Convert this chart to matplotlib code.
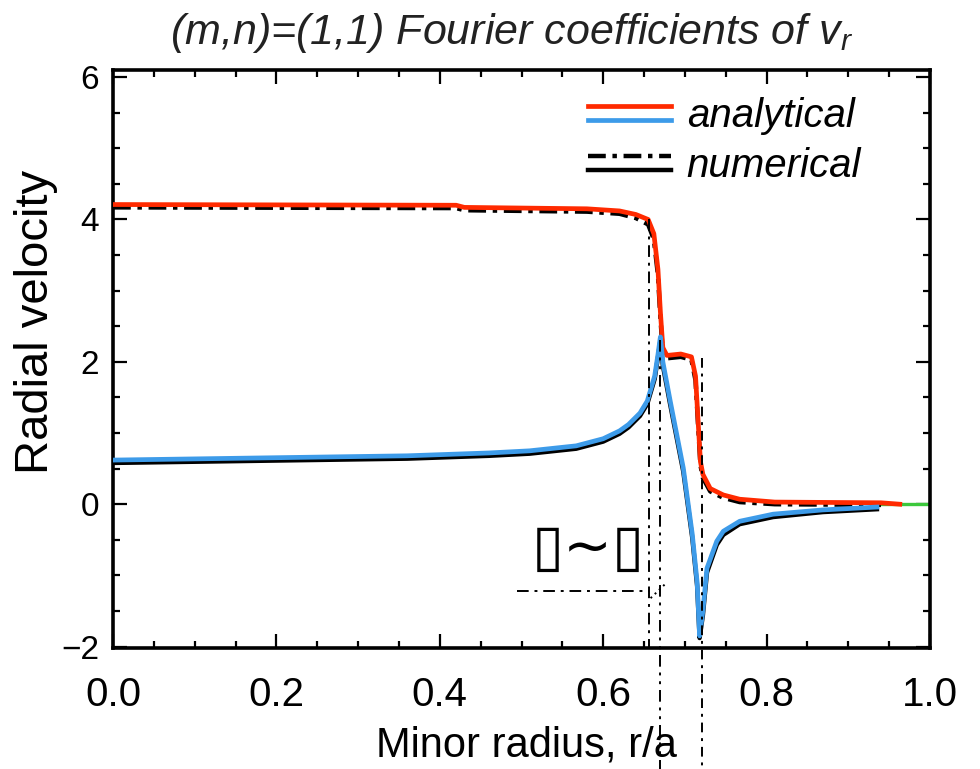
import matplotlib
matplotlib.use("Agg")
import matplotlib.pyplot as plt
from matplotlib.lines import Line2D
from matplotlib.legend_handler import HandlerBase
from matplotlib.ticker import MultipleLocator

plt.rcParams['font.family'] = ['Liberation Sans', 'DejaVu Sans']
plt.rcParams['mathtext.fontset'] = 'custom'
plt.rcParams['mathtext.it'] = 'Liberation Sans:italic'
plt.rcParams['mathtext.rm'] = 'Liberation Sans'

# ---- data -------------------------------------------------------------
# analytical real part (red)
r_red = [0.0, 0.42, 0.43, 0.58, 0.62, 0.64, 0.655, 0.662, 0.667, 0.670, 0.673,
         0.678, 0.695, 0.708, 0.713, 0.716, 0.719, 0.722, 0.731, 0.747, 0.767,
         0.81, 0.94, 0.963]
v_red = [4.21, 4.20, 4.17, 4.15, 4.12, 4.07, 4.00, 3.80, 3.30, 2.70, 2.20,
         2.09, 2.11, 2.07, 1.80, 1.20, 0.60, 0.42, 0.22, 0.13, 0.07,
         0.03, 0.02, 0.0]

# analytical imaginary part (blue)
r_blue = [0.0, 0.18, 0.36, 0.46, 0.51, 0.567, 0.60, 0.62, 0.631, 0.645, 0.654,
          0.663, 0.667, 0.670, 0.673, 0.682, 0.698, 0.709, 0.715, 0.718, 0.722,
          0.727, 0.739, 0.747, 0.767, 0.808, 0.869, 0.935]
v_blue = [0.62, 0.65, 0.68, 0.72, 0.75, 0.82, 0.92, 1.03, 1.12, 1.28, 1.45,
          1.80, 2.10, 2.35, 2.00, 1.45, 0.51, -0.42, -1.10, -1.85, -1.50,
          -0.90, -0.52, -0.38, -0.24, -0.14, -0.08, -0.04]

# numerical results (black)
r_num_re = [0.0, 0.42, 0.43, 0.58, 0.62, 0.64, 0.655, 0.662, 0.667, 0.670,
            0.673, 0.678, 0.695, 0.708, 0.713, 0.716, 0.719, 0.722, 0.731,
            0.747, 0.767, 0.81, 0.94]
v_num_re = [4.17, 4.16, 4.13, 4.11, 4.08, 4.02, 3.93, 3.72, 3.22, 2.62,
            2.12, 2.05, 2.07, 2.03, 1.74, 1.14, 0.55, 0.37, 0.18, 0.09,
            0.03, 0.0, -0.01]
r_num_im = [0.0, 0.18, 0.36, 0.46, 0.51, 0.567, 0.60, 0.62, 0.631, 0.645,
            0.654, 0.663, 0.667, 0.670, 0.673, 0.682, 0.698, 0.709, 0.715,
            0.718, 0.722, 0.727, 0.739, 0.747, 0.767, 0.808, 0.869, 0.935]
v_num_im = [0.58, 0.61, 0.64, 0.68, 0.71, 0.78, 0.88, 0.99, 1.08, 1.24,
            1.41, 1.76, 2.06, 2.30, 1.95, 1.40, 0.46, -0.47, -1.15, -1.88,
            -1.56, -0.96, -0.57, -0.43, -0.28, -0.18, -0.11, -0.07]

# edge segment
r_edge = [0.94, 1.0]
v_edge = [0.0, 0.0]

# guide lines: radial positions, upper and lower ends
guide_r = [0.656, 0.669, 0.721]
guide_top = [4.0, 2.3, 2.05]
guide_bottom = [-2.02, -3.9, -3.9]
guide_styles = [(0, (6, 3, 1.5, 3)), (0, (6, 3, 1.5, 3, 1.5, 3)), (0, (5, 3, 1.5, 3))]

# horizontal marker line
hline_r = [0.495, 0.656]
hline_v = [-1.22, -1.22]
tick_r = [0.658, 0.676]
tick_v = [-1.32, -1.12]

# ---- figure -----------------------------------------------------------
fig = plt.figure(figsize=(9.8, 7.69), dpi=100)
ax = fig.add_axes([113 / 980, 1 - 648 / 769, 817 / 980, 578 / 769])

red = '#ff2a00'
blue = '#3d9be9'
green = '#3cc83c'

ax.plot(r_edge, v_edge, color=green, lw=2.4, zorder=2)
ax.plot(r_num_re, v_num_re, color='black', lw=3.2,
        linestyle=(0, (4, 1.5, 1, 1.5)), zorder=3)
ax.plot(r_num_im, v_num_im, color='black', lw=3.2, zorder=3)
ax.plot(r_red, v_red, color=red, lw=3.4, zorder=4)
ax.plot(r_blue, v_blue, color=blue, lw=3.4, zorder=4)

for r, top, bot, ls in zip(guide_r, guide_top, guide_bottom, guide_styles):
    ax.plot([r, r], [top, bot], color='black', lw=1.4, linestyle=ls,
            clip_on=False, zorder=5)

ax.plot(hline_r, hline_v, color='black', lw=1.4,
        linestyle=(0, (6, 3, 1.5, 3)), zorder=5)
ax.plot(tick_r, tick_v, color='black', lw=1.4, linestyle=(0, (1, 2)),
        zorder=5)

ax.text(0.582, -0.62, '\u25af~\u25af', fontsize=42, ha='center', va='center',
        family=['DejaVu Sans'], zorder=6)

ax.set_xlim(0, 1.0)
ax.set_ylim(-2.02, 6.1)
ax.xaxis.set_major_locator(MultipleLocator(0.2))
ax.xaxis.set_minor_locator(MultipleLocator(0.05))
ax.yaxis.set_major_locator(MultipleLocator(2))
ax.yaxis.set_minor_locator(MultipleLocator(0.5))
ax.xaxis.set_major_formatter(plt.FuncFormatter(lambda v, p: f'{v:.1f}'))
ax.yaxis.set_major_formatter(plt.FuncFormatter(lambda v, p: f'{v:.0f}'.replace('-', '\u2212')))

ax.tick_params(which='both', direction='in', top=True, right=True, width=1.6)
ax.tick_params(which='major', length=10)
ax.tick_params(which='minor', length=5)
ax.tick_params(axis='x', which='major', labelsize=29, pad=20)
ax.tick_params(axis='y', which='major', labelsize=24, pad=10)
for s in ax.spines.values():
    s.set_linewidth(2.6)

ax.set_xlabel('Minor radius, r/a', fontsize=30)
ax.xaxis.set_label_coords((526 - 113) / 817, (648 - 726) / 578)
ax.set_ylabel('Radial velocity', fontsize=34)
ax.yaxis.set_label_coords((58 - 113) / 817, (648 - 322) / 578)

fig.text(0.522, 1 - 33 / 769, r'(m,n)=(1,1) Fourier coefficients of $v_r$',
         fontsize=31, style='italic', ha='center', va='center', color='#222222')


class HandlerStacked(HandlerBase):
    def create_artists(self, legend, orig_handle, xdescent, ydescent,
                       width, height, fontsize, trans):
        upper, lower = orig_handle
        sep = 5.0
        out = []
        for h, y in ((upper, height / 2 + sep), (lower, height / 2 - sep)):
            ln = Line2D([-xdescent, -xdescent + width], [y - ydescent] * 2)
            ln.update_from(h)
            ln.set_transform(trans)
            out.append(ln)
        return out


h_an = (Line2D([], [], color=red, lw=3.4), Line2D([], [], color=blue, lw=3.4))
h_num = (Line2D([], [], color='black', lw=3.2, linestyle=(0, (4, 1.5, 1, 1.5))),
         Line2D([], [], color='black', lw=3.2))
leg = ax.legend([h_an, h_num], ['analytical', 'numerical'],
                handler_map={tuple: HandlerStacked()},
                loc='upper left', bbox_to_anchor=((588 - 113) / 817, (648 - 97) / 578),
                frameon=False, borderpad=0, borderaxespad=0,
                handlelength=2.05, handletextpad=0.4, labelspacing=0.3,
                prop={'size': 29, 'style': 'italic'})

fig.savefig('out.png', dpi=100)
